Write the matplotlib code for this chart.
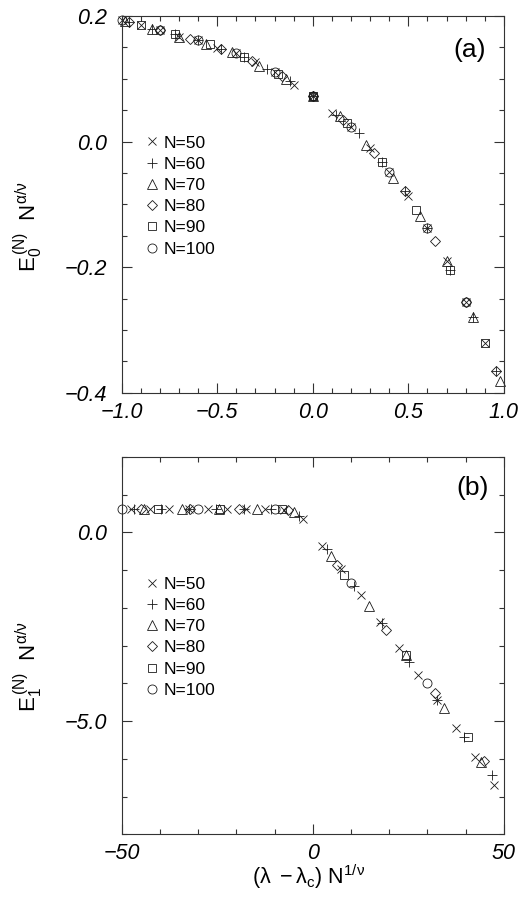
import matplotlib
matplotlib.use('Agg')
import matplotlib.pyplot as plt
from matplotlib.ticker import MultipleLocator, FuncFormatter

plt.rcParams['font.family'] = ['Liberation Sans', 'DejaVu Sans']
plt.rcParams['mathtext.fontset'] = 'custom'
plt.rcParams['mathtext.rm'] = 'Liberation Sans'
plt.rcParams['mathtext.it'] = 'Liberation Sans'
plt.rcParams['mathtext.bf'] = 'Liberation Sans:bold'

# series labels / markers
labels = ['N=50', 'N=60', 'N=70', 'N=80', 'N=90', 'N=100']
markers = ['x', '+', '^', 'D', 's', 'o']
msizes = [5.5, 6.5, 7, 5, 6, 6.5]

# ---- panel (a) ----
xa_50 = [-1.0, -0.9, -0.8, -0.7, -0.6, -0.5, -0.4, -0.3, -0.2, -0.1, 0.0,
         0.1, 0.2, 0.3, 0.4, 0.5, 0.6, 0.7, 0.8, 0.9]
ya_50 = [0.194, 0.186, 0.177, 0.167, 0.162, 0.149, 0.141, 0.127, 0.111, 0.090, 0.072,
         0.046, 0.024, -0.011, -0.048, -0.087, -0.138, -0.191, -0.255, -0.321]
xa_60 = [-0.96, -0.84, -0.72, -0.60, -0.48, -0.36, -0.24, -0.12, 0.0,
         0.12, 0.24, 0.36, 0.48, 0.60, 0.72, 0.84, 0.96]
ya_60 = [0.191, 0.180, 0.172, 0.162, 0.148, 0.134, 0.115, 0.096, 0.072,
         0.043, 0.013, -0.032, -0.079, -0.138, -0.204, -0.280, -0.366]
xa_70 = [-0.98, -0.84, -0.70, -0.56, -0.42, -0.28, -0.14, 0.0,
         0.14, 0.28, 0.42, 0.56, 0.70, 0.84, 0.98]
ya_70 = [0.192, 0.180, 0.167, 0.156, 0.142, 0.120, 0.099, 0.072,
         0.040, -0.005, -0.058, -0.119, -0.191, -0.280, -0.382]
xa_80 = [-0.96, -0.80, -0.64, -0.48, -0.32, -0.16, 0.0,
         0.16, 0.32, 0.48, 0.64, 0.80, 0.96]
ya_80 = [0.191, 0.177, 0.164, 0.148, 0.129, 0.105, 0.072,
         0.035, -0.019, -0.079, -0.159, -0.255, -0.366]
xa_90 = [-0.90, -0.72, -0.54, -0.36, -0.18, 0.0, 0.18, 0.36, 0.54, 0.72, 0.90]
ya_90 = [0.186, 0.172, 0.155, 0.134, 0.107, 0.072, 0.029, -0.032, -0.109, -0.204, -0.321]
xa_100 = [-1.0, -0.8, -0.6, -0.4, -0.2, 0.0, 0.2, 0.4, 0.6, 0.8]
ya_100 = [0.194, 0.177, 0.162, 0.141, 0.111, 0.072, 0.024, -0.048, -0.138, -0.255]

# ---- panel (b) ----
xb_50 = [-47.5, -42.5, -37.5, -32.5, -27.5, -22.5, -17.5, -12.5, -7.5, -2.5,
         2.5, 7.5, 12.5, 17.5, 22.5, 27.5, 32.5, 37.5, 42.5, 47.5]
yb_50 = [0.62, 0.62, 0.62, 0.62, 0.62, 0.62, 0.62, 0.62, 0.60, 0.35,
         -0.35, -0.98, -1.66, -2.36, -3.07, -3.78, -4.44, -5.19, -5.95, -6.70]
xb_60 = [-46.8, -39.6, -32.4, -25.2, -18.0, -10.8, -3.6,
         3.6, 10.8, 18.0, 25.2, 32.4, 39.6, 46.8]
yb_60 = [0.62, 0.62, 0.62, 0.62, 0.62, 0.62, 0.43,
         -0.45, -1.43, -2.40, -3.42, -4.44, -5.42, -6.44]
xb_70 = [-44.1, -34.3, -24.5, -14.7, -4.9, 4.9, 14.7, 24.5, 34.3, 44.1]
yb_70 = [0.62, 0.62, 0.62, 0.62, 0.55, -0.62, -1.96, -3.24, -4.66, -6.08]
xb_80 = [-44.8, -32.0, -19.2, -6.4, 6.4, 19.2, 32.0, 44.8]
yb_80 = [0.62, 0.62, 0.62, 0.60, -0.85, -2.58, -4.26, -6.06]
xb_90 = [-40.5, -24.3, -8.1, 8.1, 24.3, 40.5]
yb_90 = [0.62, 0.62, 0.62, -1.12, -3.24, -5.42]
xb_100 = [-50.0, -30.0, -10.0, 10.0, 30.0]
yb_100 = [0.62, 0.62, 0.62, -1.34, -3.98]

xa = [xa_50, xa_60, xa_70, xa_80, xa_90, xa_100]
ya = [ya_50, ya_60, ya_70, ya_80, ya_90, ya_100]
xb = [xb_50, xb_60, xb_70, xb_80, xb_90, xb_100]
yb = [yb_50, yb_60, yb_70, yb_80, yb_90, yb_100]

fig = plt.figure(figsize=(5.31, 9.0), dpi=100)
ax1 = fig.add_axes([0.229, 0.5637, 0.72, 0.4185])
ax2 = fig.add_axes([0.229, 0.073, 0.72, 0.4192])

ink = '#1a1a1a'


def fmt(pattern):
    # real minus sign instead of the hyphen % formatting gives
    return FuncFormatter(lambda v, p: (pattern % v).replace('-', '\u2212'))


def draw(ax, xs, ys):
    for x, y, m, s, lab in zip(xs, ys, markers, msizes, labels):
        ax.plot(x, y, linestyle='none', marker=m, markersize=s,
                markerfacecolor='none', markeredgecolor=ink,
                markeredgewidth=0.6, label=lab, clip_on=False)


def style(ax):
    for sp in ax.spines.values():
        sp.set_linewidth(0.8)
        sp.set_color('#333333')
    ax.tick_params(which='both', direction='in', top=True, right=True,
                   width=0.8, color='#333333', labelsize=15.5)
    ax.tick_params(which='major', length=7)
    ax.tick_params(which='minor', length=3.5)
    ax.tick_params(axis='x', pad=6.5)
    ax.tick_params(axis='y', pad=10.5)
    for t in ax.get_xticklabels() + ax.get_yticklabels():
        t.set_fontstyle('italic')
    ax.legend(loc='upper left', frameon=False, fontsize=12.5,
              handlelength=0.8, handletextpad=0.25, labelspacing=0.35,
              borderpad=0, borderaxespad=0,
              bbox_to_anchor=(0.062, 0.683))


draw(ax1, xa, ya)
ax1.set_xlim(-1.0, 1.0)
ax1.set_ylim(-0.4, 0.2)
ax1.xaxis.set_major_locator(MultipleLocator(0.5))
ax1.xaxis.set_minor_locator(MultipleLocator(0.1))
ax1.yaxis.set_major_locator(MultipleLocator(0.2))
ax1.yaxis.set_minor_locator(MultipleLocator(0.05))
ax1.xaxis.set_major_formatter(fmt('%.1f'))
ax1.yaxis.set_major_formatter(fmt('%.1f'))
style(ax1)
ax1.set_ylabel(r'$\mathregular{E_0^{\,(N)}\ \ N^{\alpha/\nu}}$', fontsize=16)
ax1.yaxis.set_label_coords(-0.2, 0.44)
ax1.text(0.911, 0.91, '(a)', transform=ax1.transAxes, fontsize=19,
         ha='center', va='center')

draw(ax2, xb, yb)
ax2.set_xlim(-50, 50)
ax2.set_ylim(-8, 2)
ax2.xaxis.set_major_locator(MultipleLocator(50))
ax2.xaxis.set_minor_locator(MultipleLocator(10))
ax2.yaxis.set_major_locator(MultipleLocator(5))
ax2.yaxis.set_minor_locator(MultipleLocator(1))
ax2.xaxis.set_major_formatter(fmt('%d'))
ax2.yaxis.set_major_formatter(fmt('%.1f'))
style(ax2)
ax2.set_ylabel(r'$\mathregular{E_1^{\,(N)}\ \ N^{\alpha/\nu}}$', fontsize=16)
ax2.yaxis.set_label_coords(-0.2, 0.445)
ax2.set_xlabel(r'$\mathregular{(\lambda\ -\lambda_c)\ N^{1/\nu}}$', fontsize=15.5)
ax2.xaxis.set_label_coords(0.488, -0.074)
ax2.text(0.919, 0.918, '(b)', transform=ax2.transAxes, fontsize=19,
         ha='center', va='center')

fig.savefig('out.png', dpi=100)
